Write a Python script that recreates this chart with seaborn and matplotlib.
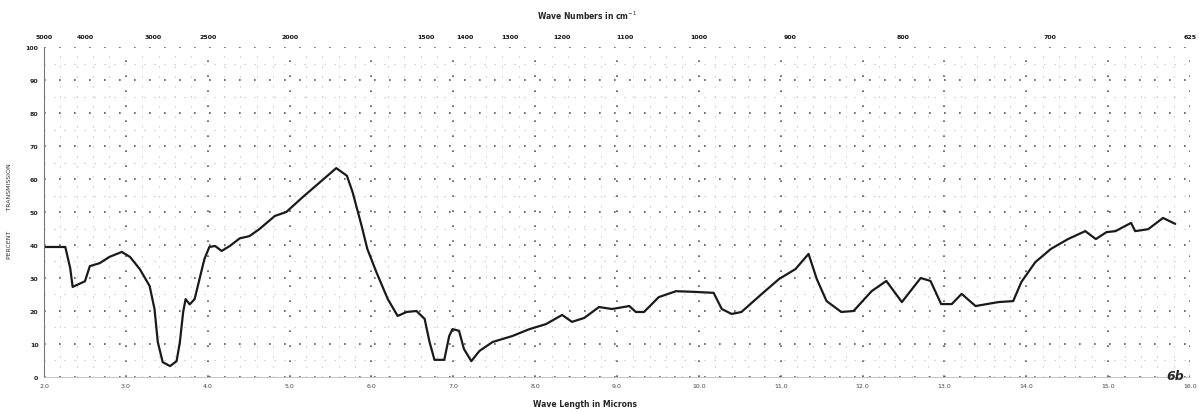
import numpy as np
import pandas as pd
import seaborn as sns
import matplotlib.pyplot as plt


# -----------------------------
# DATA
# -----------------------------
wavelength_um = [
    1.95, 2.26, 2.32, 2.35, 2.50, 2.56, 2.68, 2.80, 2.95, 3.05,
    3.17, 3.29, 3.35, 3.39, 3.45, 3.54, 3.62, 3.66, 3.70, 3.73,
    3.78, 3.84, 3.90, 3.96, 4.02, 4.09, 4.17, 4.27, 4.39, 4.51,
    4.63, 4.82, 4.96, 5.16, 5.37, 5.57, 5.70, 5.77, 5.88, 5.95,
    6.06, 6.20, 6.32, 6.43, 6.55, 6.65, 6.71, 6.77, 6.89, 6.95,
    6.99, 7.07, 7.13, 7.22, 7.32, 7.48, 7.72, 7.93, 8.13, 8.33,
    8.45, 8.60, 8.78, 8.94, 9.15, 9.23, 9.33, 9.51, 9.72, 9.94,
    10.18, 10.28, 10.40, 10.52, 10.77, 10.98, 11.18, 11.34, 11.44, 11.56,
    11.74, 11.89, 12.11, 12.29, 12.48, 12.71, 12.83, 12.96, 13.09, 13.21,
    13.38, 13.66, 13.84, 13.94, 14.11, 14.30, 14.51, 14.72, 14.85, 14.98,
    15.09, 15.28, 15.33, 15.49, 15.67, 15.82,
]
transmission_pct = [
    39.4, 39.4, 33.0, 27.3, 29.0, 33.6, 34.5, 36.4, 37.9, 36.4,
    32.7, 27.6, 20.6, 10.6, 4.5, 3.3, 4.8, 10.6, 19.7, 23.6,
    22.0, 23.6, 29.7, 35.8, 39.4, 39.7, 38.2, 39.7, 42.0, 42.7,
    44.8, 48.8, 50.0, 54.5, 59.0, 63.3, 61.0, 56.0, 45.8, 38.8,
    31.8, 23.6, 18.5, 19.7, 20.0, 17.6, 10.6, 5.2, 5.2, 12.4,
    14.5, 14.0, 8.5, 4.8, 7.9, 10.6, 12.4, 14.5, 16.0, 18.8,
    16.7, 17.9, 21.2, 20.6, 21.5, 19.7, 19.7, 24.2, 26.0, 25.8,
    25.5, 20.6, 19.1, 19.7, 25.2, 29.7, 32.7, 37.3, 29.7, 23.0,
    19.7, 20.0, 26.0, 29.1, 22.7, 30.0, 29.1, 22.1, 22.1, 25.2,
    21.5, 22.7, 23.0, 28.8, 34.8, 38.8, 41.8, 44.2, 41.8, 43.9,
    44.2, 46.7, 44.2, 44.8, 48.2, 46.4,
]

# top axis labels (wave numbers, cm-1)
wavenumber_ticks = [5000, 4000, 3000, 2500, 2000, 1500, 1400, 1300,
                    1200, 1100, 1000, 900, 800, 700, 625]
micron_ticks = list(range(2, 17))
percent_ticks = list(range(0, 101, 10))

df = pd.DataFrame({"wavelength": wavelength_um, "T": transmission_pct})


# -----------------------------
# PLOT SETUP
# -----------------------------
sns.set_style("white")
plt.rcParams["font.family"] = ["DejaVu Sans"]

fig = plt.figure(figsize=(11.99, 4.14), dpi=100)
ax = fig.add_axes([0.0367, 0.087, 0.9558, 0.797])

sns.lineplot(data=df, x="wavelength", y="T", ax=ax,
             color="#1a1a1a", linewidth=1.6, sort=False)

ax.set_xlim(2, 16)
ax.set_ylim(0, 100)

# dotted chart-paper grid
ax.set_xticks(micron_ticks)
ax.set_xticks(np.arange(2, 16.01, 0.2), minor=True)
ax.set_yticks(percent_ticks)
ax.set_yticks(np.arange(0, 101, 5), minor=True)
ax.grid(which="major", color="#555555", linestyle=(0, (1, 8)), linewidth=1.2)
ax.grid(which="minor", color="#bbbbbb", linestyle=(0, (1, 8)), linewidth=0.8)

ax.set_xticklabels([f"{t}.0" for t in micron_ticks], fontsize=4.5, color="#444444")
ax.set_yticklabels(percent_ticks, fontsize=4.5, color="#222222", fontweight="bold")
ax.tick_params(which="both", length=0, pad=4)

for side in ["top", "right"]:
    ax.spines[side].set_visible(False)
ax.spines["left"].set_color("#777777")
ax.spines["left"].set_linewidth(0.8)
ax.spines["bottom"].set_color("#bbbbbb")
ax.spines["bottom"].set_linewidth(0.6)

ax.set_xlabel("")
ax.set_ylabel("")

# top wave-number scale
top = ax.secondary_xaxis("top", functions=(lambda w: 1e4 / np.maximum(w, 1e-6),
                                           lambda n: 1e4 / np.maximum(n, 1e-6)))
top.set_xticks(wavenumber_ticks)
top.set_xticklabels(wavenumber_ticks, fontsize=4.5, fontweight="bold", color="#111111")
top.tick_params(length=0, pad=6)
top.spines["top"].set_visible(False)

# -----------------------------
# TEXT
# -----------------------------
fig.text(0.49, 0.962, "Wave Numbers in cm$^{-1}$", ha="center", va="center",
         fontsize=5.5, fontweight="bold")
fig.text(0.488, 0.022, "Wave Length in Microns", ha="center", va="center",
         fontsize=5.5, fontweight="bold")
fig.text(0.008, 0.49, "PERCENT          TRANSMISSION", rotation=90,
         ha="center", va="center", fontsize=4.5, color="#333333")
fig.text(0.98, 0.09, "6b", ha="center", va="center", fontsize=9,
         fontweight="bold", style="italic")

fig.savefig("out.png", dpi=100)
